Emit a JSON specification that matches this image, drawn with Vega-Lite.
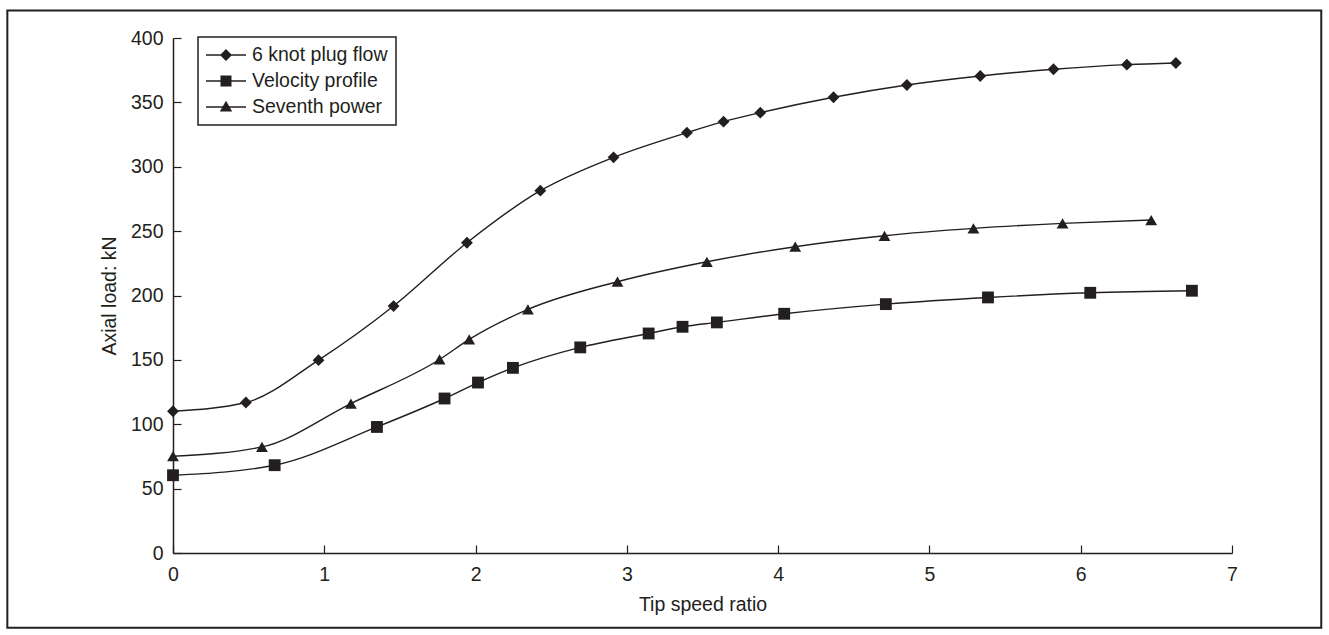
{
  "$schema": "https://vega.github.io/schema/vega-lite/v6.json",
  "width": 1059,
  "height": 515,
  "autosize": {"type": "none"},
  "padding": {"left": 173, "top": 38, "right": 97, "bottom": 82},
  "background": "white",
  "config": {
    "view": {"stroke": null},
    "font": "Liberation Sans",
    "legend": {"strokeWidth": 1.5},
    "axis": {
      "domainColor": "#231f20",
      "domainWidth": 1.5,
      "tickColor": "#231f20",
      "tickWidth": 1.2,
      "tickSize": -8,
      "grid": false,
      "labelFlush": false,
      "labelFont": "Liberation Sans",
      "labelFontSize": 19.5,
      "labelColor": "#231f20",
      "titleFont": "Liberation Sans",
      "titleFontSize": 19.5,
      "titleFontWeight": "normal",
      "titleColor": "#231f20"
    }
  },
  "resolve": {"scale": {"shape": "independent"}},
  "data": {
    "values": [
      {"series": "6 knot plug flow", "tsr": 0, "load": 110.1},
      {"series": "6 knot plug flow", "tsr": 0.482, "load": 116.9},
      {"series": "6 knot plug flow", "tsr": 0.962, "load": 149.8},
      {"series": "6 knot plug flow", "tsr": 1.458, "load": 191.8},
      {"series": "6 knot plug flow", "tsr": 1.943, "load": 241.0},
      {"series": "6 knot plug flow", "tsr": 2.428, "load": 281.4},
      {"series": "6 knot plug flow", "tsr": 2.912, "load": 307.3},
      {"series": "6 knot plug flow", "tsr": 3.397, "load": 326.5},
      {"series": "6 knot plug flow", "tsr": 3.639, "load": 335.0},
      {"series": "6 knot plug flow", "tsr": 3.882, "load": 342.0},
      {"series": "6 knot plug flow", "tsr": 4.366, "load": 354.0},
      {"series": "6 knot plug flow", "tsr": 4.851, "load": 363.5},
      {"series": "6 knot plug flow", "tsr": 5.336, "load": 370.5},
      {"series": "6 knot plug flow", "tsr": 5.820, "load": 375.7},
      {"series": "6 knot plug flow", "tsr": 6.305, "load": 379.3},
      {"series": "6 knot plug flow", "tsr": 6.629, "load": 380.6},
      {"series": "Velocity profile", "tsr": 0, "load": 60.4},
      {"series": "Velocity profile", "tsr": 0.672, "load": 68.2},
      {"series": "Velocity profile", "tsr": 1.348, "load": 97.9},
      {"series": "Velocity profile", "tsr": 1.795, "load": 120.0},
      {"series": "Velocity profile", "tsr": 2.016, "load": 132.4},
      {"series": "Velocity profile", "tsr": 2.247, "load": 143.8},
      {"series": "Velocity profile", "tsr": 2.692, "load": 159.7},
      {"series": "Velocity profile", "tsr": 3.144, "load": 170.5},
      {"series": "Velocity profile", "tsr": 3.368, "load": 175.7},
      {"series": "Velocity profile", "tsr": 3.595, "load": 179.1},
      {"series": "Velocity profile", "tsr": 4.040, "load": 185.8},
      {"series": "Velocity profile", "tsr": 4.712, "load": 193.3},
      {"series": "Velocity profile", "tsr": 5.387, "load": 198.5},
      {"series": "Velocity profile", "tsr": 6.063, "load": 202.1},
      {"series": "Velocity profile", "tsr": 6.735, "load": 203.7},
      {"series": "Seventh power", "tsr": 0, "load": 75.2},
      {"series": "Seventh power", "tsr": 0.588, "load": 82.4},
      {"series": "Seventh power", "tsr": 1.176, "load": 116.1},
      {"series": "Seventh power", "tsr": 1.762, "load": 150.3},
      {"series": "Seventh power", "tsr": 1.958, "load": 165.9},
      {"series": "Seventh power", "tsr": 2.346, "load": 189.2},
      {"series": "Seventh power", "tsr": 2.938, "load": 210.7},
      {"series": "Seventh power", "tsr": 3.529, "load": 226.2},
      {"series": "Seventh power", "tsr": 4.113, "load": 237.9},
      {"series": "Seventh power", "tsr": 4.703, "load": 246.4},
      {"series": "Seventh power", "tsr": 5.291, "load": 252.1},
      {"series": "Seventh power", "tsr": 5.880, "load": 256.0},
      {"series": "Seventh power", "tsr": 6.466, "load": 258.6}
    ]
  },
  "layer": [
    {
      "mark": {"type": "rect", "fill": null, "stroke": "#231f20", "strokeWidth": 2, "clip": false},
      "data": {"values": [{}]},
      "encoding": {
        "x": {"datum": -1.095, "type": "quantitative", "scale": {"domain": [0, 7], "nice": false}},
        "x2": {"datum": 7.59},
        "y": {"datum": 421.3, "type": "quantitative", "scale": {"domain": [0, 400], "nice": false}},
        "y2": {"datum": -58}
      }
    },
    {
      "mark": {"type": "line", "interpolate": "monotone", "stroke": "#231f20", "strokeWidth": 1.4},
      "encoding": {
        "x": {"field": "tsr", "type": "quantitative", "scale": {"domain": [0, 7], "nice": false},
          "axis": {"values": [0, 1, 2, 3, 4, 5, 6, 7], "title": "Tip speed ratio", "labelPadding": 20, "titlePadding": 12, "format": "d"}},
        "y": {"field": "load", "type": "quantitative", "scale": {"domain": [0, 400], "nice": false},
          "axis": {"values": [0, 50, 100, 150, 200, 250, 300, 350, 400], "title": "Axial load: kN", "labelPadding": 18, "titlePadding": 11}},
        "detail": {"field": "series"}
      }
    },
    {
      "mark": {"type": "point", "filled": true, "opacity": 1, "color": "#231f20", "size": 140},
      "encoding": {
        "x": {"field": "tsr", "type": "quantitative"},
        "y": {"field": "load", "type": "quantitative"},
        "shape": {
          "field": "series",
          "type": "nominal",
          "scale": {"domain": ["6 knot plug flow", "Velocity profile", "Seventh power"], "range": ["diamond", "square", "triangle-up"]},
          "legend": null
        }
      }
    },
    {
      "transform": [{"filter": "false"}],
      "mark": {"type": "point", "filled": true, "opacity": 1, "color": "#231f20"},
      "encoding": {
        "x": {"field": "tsr", "type": "quantitative"},
        "y": {"field": "load", "type": "quantitative"},
        "shape": {
          "field": "series",
          "type": "nominal",
          "scale": {
            "domain": ["6 knot plug flow", "Velocity profile", "Seventh power"],
            "range": [
              "M-2,-0.07L2,-0.07L2,0.07L-2,0.07ZM-0.6,0L0,-0.6L0.6,0L0,0.6Z",
              "M-2,-0.07L2,-0.07L2,0.07L-2,0.07ZM-0.55,-0.55L0.55,-0.55L0.55,0.55L-0.55,0.55Z",
              "M-2,-0.07L2,-0.07L2,0.07L-2,0.07ZM0,-0.62L0.62,0.46L-0.62,0.46Z"
            ]
          },
          "legend": {
            "orient": "none",
            "legendX": 25,
            "legendY": -1,
            "title": null,
            "padding": 8,
            "strokeColor": "#231f20",
            "fillColor": "white",
            "labelFont": "Liberation Sans",
            "labelFontSize": 19.5,
            "labelColor": "#231f20",
            "symbolSize": 400,
            "symbolOffset": 10,
            "labelOffset": 16,
            "rowPadding": 6,
            "symbolFillColor": "#231f20",
            "symbolStrokeColor": "#231f20",
            "symbolStrokeWidth": 0,
            "symbolOpacity": 1
          }
        }
      }
    }
  ]
}
